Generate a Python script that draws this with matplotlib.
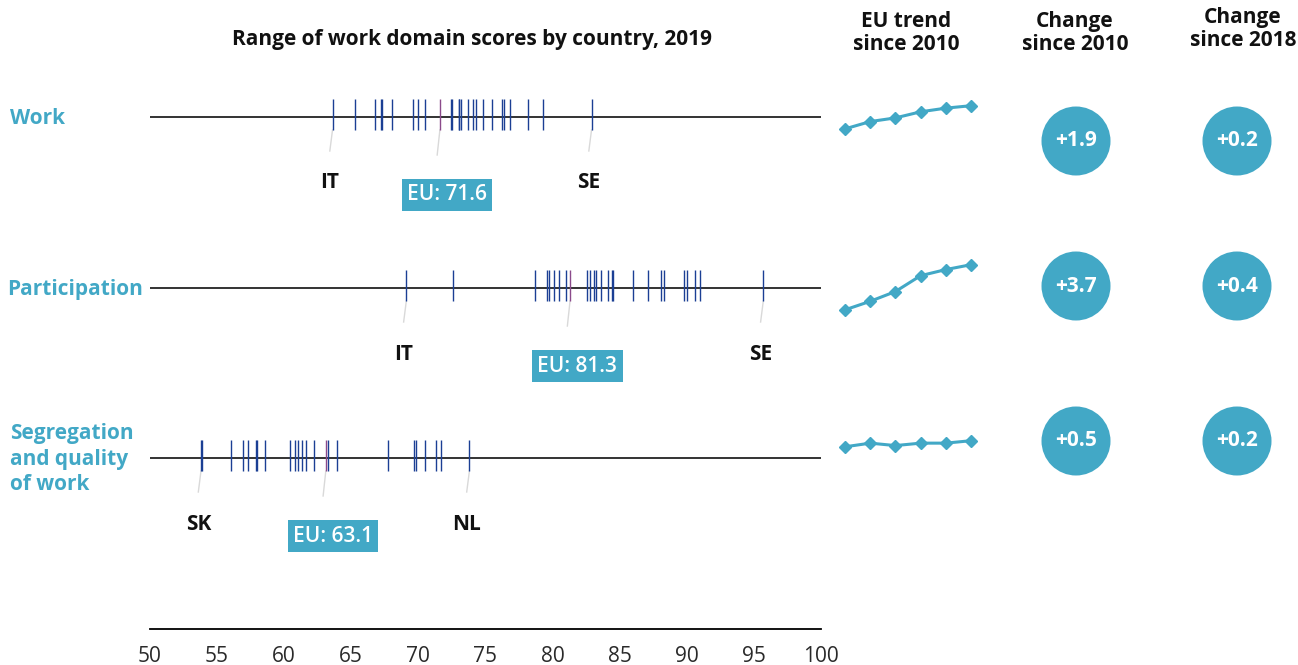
import matplotlib.pyplot as plt
from matplotlib.patches import Circle
from matplotlib import transforms

plt.rcParams['font.family'] = ['Open Sans', 'DejaVu Sans']

W, H = 1298, 665

rows = ['Work', 'Participation', 'Segregation\nand quality\nof work']
work_scores = [63.6, 65.3, 66.8, 67.2, 67.3, 68.0, 69.6, 70.0, 70.5, 72.4, 72.5, 73.0, 73.0,
               73.2, 73.7, 74.1, 74.3, 74.8, 75.5, 76.2, 76.4, 76.8, 78.2, 79.3, 82.9]
participation_scores = [69.1, 72.6, 78.7, 79.6, 79.7, 80.1, 80.5, 81.0, 82.6, 82.8, 83.1, 83.2, 83.6,
                        84.1, 84.4, 84.5, 86.0, 87.1, 88.1, 88.3, 89.8, 90.0, 90.6, 91.0, 95.7]
segregation_scores = [53.8, 53.9, 56.0, 56.9, 57.3, 57.9, 58.0, 58.6, 60.4, 60.8, 61.0, 61.3,
                      61.6, 62.2, 63.3, 63.9, 67.7, 69.7, 69.8, 70.5, 71.3, 71.7, 73.8]
eu_scores = [71.6, 81.3, 63.1]
low_country = ['IT', 'IT', 'SK']
high_country = ['SE', 'SE', 'NL']

trend_work = [69.7, 70.3, 70.6, 71.1, 71.4, 71.6]
trend_participation = [77.6, 78.3, 79.1, 80.4, 80.9, 81.3]
trend_segregation = [62.6, 62.9, 62.7, 62.9, 62.9, 63.1]
change_2010 = ['+1.9', '+3.7', '+0.5']
change_2018 = ['+0.2', '+0.4', '+0.2']

all_scores = [work_scores, participation_scores, segregation_scores]
all_trends = [trend_work, trend_participation, trend_segregation]

teal = '#42a8c6'
blue = '#1b3f94'
purple = '#8b4a8b'

# layout in pixels
baselines = [117, 288, 458]
circle_y = [141, 286, 441]
spark_last_y = [105.7, 264.7, 440.7]


def px_box(x0, y0, x1, y1):
    return [x0 / W, 1 - y1 / H, (x1 - x0) / W, (y1 - y0) / H]


fig = plt.figure(figsize=(W / 100, H / 100), dpi=100)

# main strip
ax = fig.add_axes(px_box(150, 0, 821, 629))
ax.set_xlim(50, 100)
ax.set_ylim(629, 0)
for s in ['top', 'right', 'left']:
    ax.spines[s].set_visible(False)
ax.spines['bottom'].set_linewidth(1.3)
ax.set_xticks(range(50, 101, 5))
ax.tick_params(axis='x', length=0, pad=12, labelsize=15, colors='#2a2a2a')
ax.set_yticks([])
ax.patch.set_alpha(0)

for i, scores in enumerate(all_scores):
    b = baselines[i]
    ax.hlines(b, 50, 100, color='#111111', lw=1.2, zorder=2)
    ax.vlines(scores, b - 18, b + 13, color=blue, lw=1.0, zorder=3)
    ax.vlines(eu_scores[i], b - 18, b + 13, color=purple, lw=1.0, zorder=4)
    lo, hi = min(scores), max(scores)
    for v, name in [(lo, low_country[i]), (hi, high_country[i])]:
        ax.plot([v, v - 0.2], [b + 13, b + 34], color='#d9d9d9', lw=1.0, zorder=1)
        ax.text(v - 0.2, b + 66, name, ha='center', va='center', fontsize=15,
                fontweight='bold', color='#111111')
    e = eu_scores[i]
    ax.plot([e, e - 0.2], [b + 13, b + 38], color='#d9d9d9', lw=1.0, zorder=1)
    ax.text(e + 0.55, b + 78, f'EU: {e}', ha='center', va='center', fontsize=15,
            fontweight='semibold', color='white',
            bbox=dict(boxstyle='square,pad=0.25', fc=teal, ec='none'))

# row labels
tr = transforms.blended_transform_factory(fig.transFigure, ax.transData)
for i, lab in enumerate(rows):
    ax.text(10 / W if i != 1 else 7 / W, baselines[i] + 1, lab, transform=tr, ha='left',
            va='center', fontsize=15, fontweight='bold', color=teal, linespacing=1.29)

fig.text(472 / W, 1 - 40 / H, 'Range of work domain scores by country, 2019', ha='center',
         va='center', fontsize=15, fontweight='bold', color='#111111')

# sparklines
for i, trend in enumerate(all_trends):
    y_last = spark_last_y[i]
    sax = fig.add_axes(px_box(835, y_last - 15, 981, y_last + 60))
    sax.set_xlim(-10 / 25.2, 5 + 10 / 25.2)
    top = trend[-1] + 15 / 12.2
    sax.set_ylim(top - 75 / 12.2, top)
    sax.plot(range(len(trend)), trend, color=teal, lw=2.2, marker='D', markersize=6.5)
    sax.axis('off')

# overlay for headers and circles
ov = fig.add_axes([0, 0, 1, 1])
ov.set_xlim(0, W)
ov.set_ylim(H, 0)
ov.axis('off')
ov.patch.set_alpha(0)
ov.text(906, 33, 'EU trend\nsince 2010', ha='center', va='center', fontsize=15,
        fontweight='bold', color='#111111', linespacing=1.15)
ov.text(1075, 33, 'Change\nsince 2010', ha='center', va='center', fontsize=15,
        fontweight='bold', color='#111111', linespacing=1.15)
ov.text(1243, 29, 'Change\nsince 2018', ha='center', va='center', fontsize=15,
        fontweight='bold', color='#111111', linespacing=1.15)
for i in range(3):
    cy = circle_y[i]
    for cx, val in [(1076, change_2010[i]), (1237, change_2018[i])]:
        ov.add_patch(Circle((cx, cy), 34.5, color=teal, lw=0))
        ov.text(cx, cy, val, ha='center', va='center', fontsize=15, fontweight='bold',
                color='white')

fig.savefig('out.png', dpi=100)
